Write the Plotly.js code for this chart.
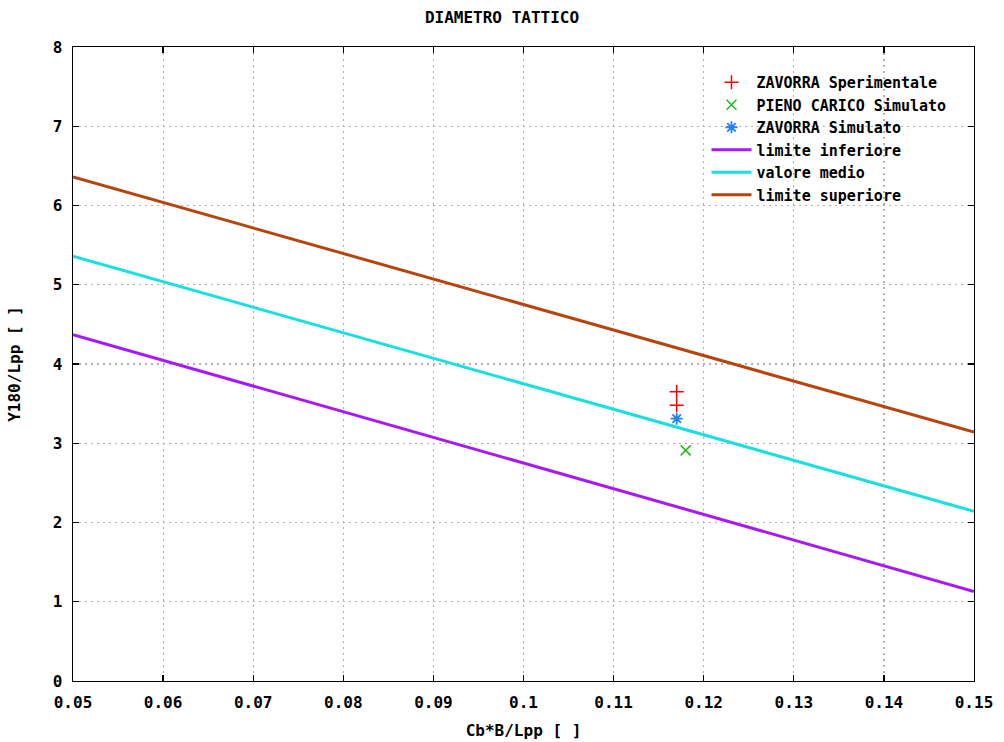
<!DOCTYPE html>
<html>
<head>
<meta charset="utf-8">
<script src="https://cdn.plot.ly/plotly-3.0.1.min.js"></script>
<style>html,body{margin:0;padding:0;background:#fff;}#chart{width:1004px;height:742px;}</style>
</head>
<body>
<div id="chart"></div>
<script>
// Data
const expX = [0.117, 0.117];
const expY = [3.65, 3.48];
const pienoX = [0.118];
const pienoY = [2.91];
const zavSimX = [0.117];
const zavSimY = [3.31];
const lineX = [0.05, 0.15];
const infY = [4.37, 1.13];
const medY = [5.36, 2.14];
const supY = [6.36, 3.14];

const seriesNames = ['ZAVORRA Sperimentale', 'PIENO CARICO Simulato', 'ZAVORRA Simulato',
                     'limite inferiore', 'valore medio', 'limite superiore'];
const xTicks = [0.05,0.06,0.07,0.08,0.09,0.1,0.11,0.12,0.13,0.14,0.15];
const xTickText = ['0.05','0.06','0.07','0.08','0.09','0.1','0.11','0.12','0.13','0.14','0.15'];
const yTicks = [0,1,2,3,4,5,6,7,8];

const F = 'DejaVu Sans Mono, Liberation Mono, monospace';
const FS = 16;

const traces = [
  {x: expX, y: expY, name: seriesNames[0], mode: 'markers', type: 'scatter',
   marker: {symbol: 'cross-thin-open', size: 10, color: '#ff0000', line: {width: 1.5, color: '#ff0000'}}},
  {x: pienoX, y: pienoY, name: seriesNames[1], mode: 'markers', type: 'scatter',
   marker: {symbol: 'x-thin-open', size: 10, color: '#22bb22', line: {width: 1.5, color: '#22bb22'}}},
  {x: zavSimX, y: zavSimY, name: seriesNames[2], mode: 'markers', type: 'scatter',
   marker: {symbol: 'asterisk-open', size: 10, color: '#2080ff', line: {width: 1.8, color: '#2080ff'}}},
  {x: lineX, y: infY, name: seriesNames[3], mode: 'lines', type: 'scatter',
   line: {color: '#a818ff', width: 3}},
  {x: lineX, y: medY, name: seriesNames[4], mode: 'lines', type: 'scatter',
   line: {color: '#18e0e0', width: 3}},
  {x: lineX, y: supY, name: seriesNames[5], mode: 'lines', type: 'scatter',
   line: {color: '#b8440c', width: 3}}
];

const axisCommon = {
  showline: true, linecolor: '#000', linewidth: 1.3, mirror: 'ticks',
  ticks: 'inside', ticklen: 6, tickcolor: '#000', tickwidth: 1.3,
  showgrid: true, gridcolor: '#b0b0b0', griddash: '2px,4px', gridwidth: 1.2,
  zeroline: false,
  tickfont: {family: F, size: FS, color: '#000', weight: 'bold'}
};

const layout = {
  width: 1004, height: 742,
  margin: {l: 73, r: 30, t: 47, b: 61},
  paper_bgcolor: '#fff', plot_bgcolor: '#fff',
  title: {text: 'DIAMETRO TATTICO', x: 0.5, xanchor: 'center', y: 0.977, yanchor: 'middle',
          font: {family: F, size: FS, color: '#000', weight: 'bold'}},
  xaxis: Object.assign({}, axisCommon, {
    range: [0.05, 0.15], tickvals: xTicks, ticktext: xTickText, ticklabelstandoff: 6,
    title: {text: 'Cb*B/Lpp [ ]', standoff: 14, font: {family: F, size: FS, color: '#000', weight: 'bold'}}
  }),
  yaxis: Object.assign({}, axisCommon, {
    range: [0, 8], tickvals: yTicks, ticklabelstandoff: 6,
    title: {text: 'Y180/Lpp [ ]', standoff: 28, font: {family: F, size: FS, color: '#000', weight: 'bold'}}
  }),
  showlegend: true,
  legend: {x: 0.975, y: 0.97, xanchor: 'right', yanchor: 'top',
           bgcolor: 'rgba(255,255,255,0)', borderwidth: 0,
           font: {family: F, size: 15, color: '#000', weight: 'bold'},
           tracegroupgap: 0, itemwidth: 40}
};

Plotly.newPlot('chart', traces, layout, {displayModeBar: false, staticPlot: true});
</script>
</body>
</html>
